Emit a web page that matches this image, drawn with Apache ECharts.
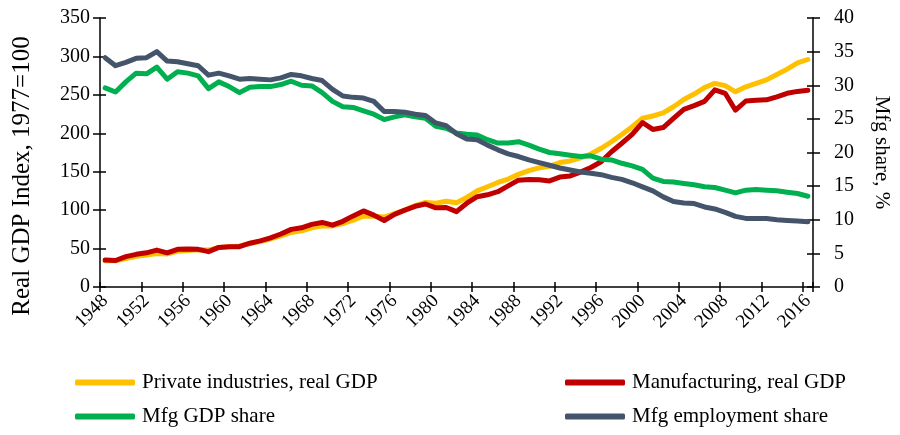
<!DOCTYPE html>
<html>
<head>
<meta charset="utf-8">
<script src="https://cdn.jsdelivr.net/npm/echarts@6/dist/echarts.min.js"></script>
<style>
html,body{margin:0;padding:0;background:#fff;}
#chart{width:900px;height:435px;}
</style>
</head>
<body>
<div id="chart"></div>
<script>
const years = [];
for (let y = 1948; y <= 2016; y++) years.push(String(y));

const privateGDP = [34,34,37,40,41.5,43.5,43,46.5,47.5,48.5,48,51.5,52.5,53.5,56.5,59,62.5,66.5,71,73,77,79.5,
  79.5,82.5,87,92.5,92,91,95.5,100,106,110,109,111.5,109.5,116.5,125,130.5,136,140.5,146.5,151.5,155,157,
  162,164,168,173,180.5,189,198.5,208.5,219.5,222.5,226.5,234.5,244,251,259.5,265,262,254,260.5,265,269.5,
  276.5,283.5,291.5,296];
const mfgGDP = [35,34.5,39.5,42.5,44.5,48,44.5,49,49.5,49,46,51.5,52.5,52.5,57,60,64,69,75,77,81.5,84,
  80.5,85.5,92.5,99,93.5,86.5,94.5,100,105,108,103,103.5,98,109,117.5,120,124,131.5,139,140,139.5,138,
  143,144.5,149.5,155.5,163,176,187,198.5,214,205,207.5,219.5,231,236,241.5,256.5,252,230,242,243,243.5,
  247.5,252,254.5,256];
const mfgGDPShare = [29.6,29.0,30.5,31.8,31.7,32.7,30.9,32.0,31.8,31.4,29.5,30.5,29.8,28.9,29.7,29.8,29.8,30.1,
  30.6,30.0,29.9,28.9,27.6,26.8,26.7,26.2,25.7,24.9,25.3,25.6,25.3,25.1,23.9,23.6,22.9,22.7,22.6,21.9,21.4,
  21.4,21.6,21.1,20.5,20.0,19.8,19.6,19.4,19.5,19.0,18.9,18.4,18.0,17.5,16.2,15.7,15.6,15.4,15.2,14.9,14.8,
  14.4,14.0,14.4,14.5,14.4,14.3,14.1,13.9,13.5];
const mfgEmpShare = [34.1,32.9,33.4,34.0,34.1,35.0,33.6,33.5,33.2,32.9,31.5,31.8,31.4,30.9,31.0,30.9,30.8,31.1,
  31.6,31.4,31.0,30.7,29.4,28.4,28.2,28.1,27.6,26.1,26.1,26.0,25.7,25.5,24.4,24.0,22.8,22.0,21.9,21.1,20.4,
  19.8,19.4,18.9,18.5,18.1,17.7,17.4,17.1,16.9,16.7,16.3,16.0,15.5,14.9,14.3,13.4,12.7,12.5,12.4,11.9,11.6,
  11.1,10.5,10.2,10.2,10.2,10.0,9.9,9.8,9.7];

const seriesNames = ['Private industries, real GDP','Manufacturing, real GDP','Mfg GDP share','Mfg employment share'];
const seriesColors = ['#FFC000','#C00000','#00B050','#44546A'];
const leftTitle = 'Real GDP Index, 1977=100';
const rightTitle = 'Mfg share, %';

const FONT = '"Liberation Serif", "Times New Roman", serif';
const axisLineStyle = {color:'#000', width:1.5};

const chart = echarts.init(document.getElementById('chart'), null, {renderer:'canvas'});

function legendAt(name, left, top){
  return {
    data:[name], left:left, top:top, orient:'horizontal',
    icon:'roundRect', itemWidth:60, itemHeight:6, padding:0,
    textStyle:{fontFamily:FONT, fontSize:21, color:'#000', padding:[0,0,0,2]}
  };
}

const option = {
  backgroundColor:'#fff',
  animation:false,
  grid:{left:100, right:86, top:18, bottom:148, containLabel:false},
  graphic:[{
    type:'text', x:22, y:176, rotation:Math.PI/2,
    style:{text:leftTitle, fontFamily:FONT, fontSize:25, fill:'#000', align:'center', verticalAlign:'middle'}
  }],
  legend:[
    legendAt(seriesNames[0], 75, 372),
    legendAt(seriesNames[1], 565, 372),
    legendAt(seriesNames[2], 75, 406),
    legendAt(seriesNames[3], 565, 406)
  ],
  xAxis:[{
    type:'category', data:years, boundaryGap:true,
    axisLine:{show:true, lineStyle:axisLineStyle},
    axisTick:{show:true, interval:3, length:5, lineStyle:axisLineStyle},
    axisLabel:{interval:3, rotate:45, fontFamily:FONT, fontSize:19, color:'#000', margin:11},
    splitLine:{show:false}
  },{
    type:'category', data:years, boundaryGap:true, position:'bottom',
    axisLine:{show:false},
    axisTick:{show:true, inside:true, interval:3, length:5, lineStyle:axisLineStyle},
    axisLabel:{show:false}, splitLine:{show:false}
  }],
  yAxis:[{
    type:'value', min:0, max:350, interval:50, position:'left',
    axisLine:{show:true, lineStyle:axisLineStyle},
    axisTick:{show:true, length:7, lineStyle:axisLineStyle},
    axisLabel:{fontFamily:FONT, fontSize:20, color:'#000', margin:10},
    splitLine:{show:false}
  },{
    type:'value', min:0, max:40, interval:5, position:'right',
    name:rightTitle, nameLocation:'middle', nameGap:58, nameRotate:-90,
    nameTextStyle:{fontFamily:FONT, fontSize:21, color:'#000'},
    axisLine:{show:true, lineStyle:axisLineStyle},
    axisTick:{show:true, length:7, lineStyle:axisLineStyle},
    axisLabel:{fontFamily:FONT, fontSize:20, color:'#000', margin:21},
    splitLine:{show:false}
  },{
    type:'value', min:0, max:350, interval:50, position:'left',
    axisLine:{show:false}, axisTick:{show:true, inside:true, length:6, lineStyle:axisLineStyle},
    axisLabel:{show:false}, splitLine:{show:false}
  },{
    type:'value', min:0, max:40, interval:5, position:'right',
    axisLine:{show:false}, axisTick:{show:true, inside:true, length:6, lineStyle:axisLineStyle},
    axisLabel:{show:false}, splitLine:{show:false}
  }],
  series:[
    {name:seriesNames[0], type:'line', data:privateGDP, yAxisIndex:0},
    {name:seriesNames[1], type:'line', data:mfgGDP, yAxisIndex:0},
    {name:seriesNames[2], type:'line', data:mfgGDPShare, yAxisIndex:1},
    {name:seriesNames[3], type:'line', data:mfgEmpShare, yAxisIndex:1}
  ].map((s,i)=>Object.assign(s,{
    symbol:'none', smooth:false, color:seriesColors[i],
    lineStyle:{width:5, color:seriesColors[i], cap:'round', join:'round'},
    emphasis:{disabled:true}
  }))
};
chart.setOption(option);
</script>
</body>
</html>
